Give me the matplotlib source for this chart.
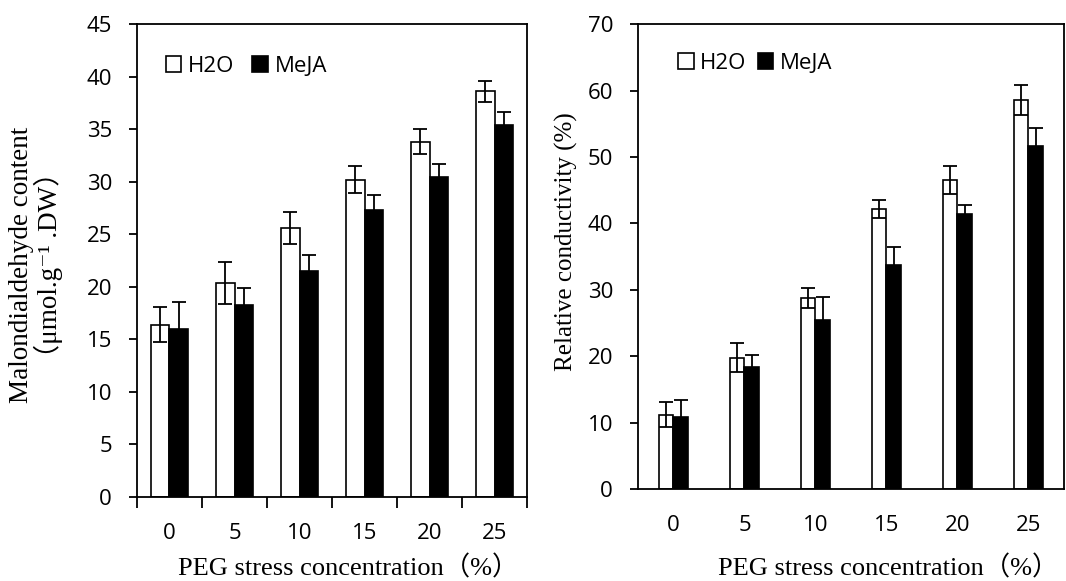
import matplotlib.pyplot as plt
import numpy as np
from matplotlib.patches import Patch

# PEG stress concentration (%)
peg = ["0", "5", "10", "15", "20", "25"]

# Malondialdehyde content (µmol/g DW)
mda_h2o = [16.4, 20.4, 25.6, 30.2, 33.8, 38.6]
mda_h2o_err = [1.7, 2.0, 1.5, 1.3, 1.2, 1.0]
mda_meja = [16.0, 18.3, 21.5, 27.3, 30.4, 35.4]
mda_meja_err = [2.6, 1.6, 1.5, 1.4, 1.3, 1.2]

# Relative conductivity (%)
rc_h2o = [11.2, 19.8, 28.7, 42.2, 46.6, 58.6]
rc_h2o_err = [1.9, 2.2, 1.5, 1.4, 2.1, 2.3]
rc_meja = [10.9, 18.4, 25.4, 33.7, 41.4, 51.7]
rc_meja_err = [2.5, 1.8, 3.5, 2.8, 1.3, 2.7]

serif = ["Liberation Serif", "Noto Sans CJK SC", "DejaVu Serif"]
sans = ["Open Sans", "DejaVu Sans"]
plt.rcParams["font.family"] = sans

fig = plt.figure(figsize=(10.66, 5.81), dpi=100)
ax1 = fig.add_axes([0.1285, 0.1446, 0.366, 0.814])
ax2 = fig.add_axes([0.5985, 0.1583, 0.3996, 0.800])


def draw(ax, h2o, h2o_err, meja, meja_err, width, ymax, ystep, xticks_on,
         leg_xy, colspace):
    x = np.arange(len(peg))
    ax.bar(x - width / 2, h2o, width, color="white", edgecolor="black", lw=1.2)
    ax.bar(x + width / 2, meja, width, color="black", edgecolor="black", lw=1.2)
    ax.errorbar(x - width / 2, h2o, yerr=h2o_err, fmt="none", ecolor="black",
                elinewidth=1.3, capsize=5, capthick=1.3)
    ax.errorbar(x + width / 2, meja, yerr=meja_err, fmt="none", ecolor="black",
                elinewidth=1.3, capsize=5, capthick=1.3)
    ax.set_xlim(-0.5, len(peg) - 0.5)
    ax.set_ylim(0, ymax)
    ax.set_yticks(np.arange(0, ymax + 1, ystep))
    ax.set_xticks(x)
    ax.set_xticklabels(peg)
    ax.tick_params(axis="x", length=0, pad=19, labelsize=16)
    ax.tick_params(axis="y", length=6, width=1.3, direction="out", pad=12, labelsize=16)
    if xticks_on:
        ax.set_xticks(np.arange(-0.5, len(peg)), minor=True)
        ax.tick_params(axis="x", which="minor", length=8, width=1.3, direction="out")
    for s in ax.spines.values():
        s.set_linewidth(1.3)
    handles = [Patch(facecolor="white", edgecolor="black", lw=1.2),
               Patch(facecolor="black", edgecolor="black", lw=1.2)]
    ax.legend(handles, ["H2O", "MeJA"], loc="center left", ncol=2, frameon=False,
              fontsize=16, handlelength=0.7, handleheight=0.7, handletextpad=0.3,
              columnspacing=colspace, borderpad=0, borderaxespad=0,
              bbox_to_anchor=leg_xy)


draw(ax1, mda_h2o, mda_h2o_err, mda_meja, mda_meja_err, 0.29, 45, 5, True,
     (0.074, 0.911), 0.8)
draw(ax2, rc_h2o, rc_h2o_err, rc_meja, rc_meja_err, 0.205, 70, 10, False,
     (0.094, 0.916), 0.5)

ax1.set_ylabel("Malondialdehyde content\n（μmol.g⁻¹ .DW）", family=serif, fontsize=19.5,
               linespacing=1.0)
ax1.yaxis.set_label_coords(-0.19, 0.49)
ax2.set_ylabel("Relative conductivity (%)", family=serif, fontsize=18)
ax2.yaxis.set_label_coords(-0.141, 0.533)

fig.text(348 / 1066, 6 / 581, "PEG stress concentration（%）", family=serif,
         fontsize=19, ha="center", va="baseline")
fig.text(888 / 1066, 6 / 581, "PEG stress concentration（%）", family=serif,
         fontsize=19, ha="center", va="baseline")

fig.savefig("out.png", dpi=100)
